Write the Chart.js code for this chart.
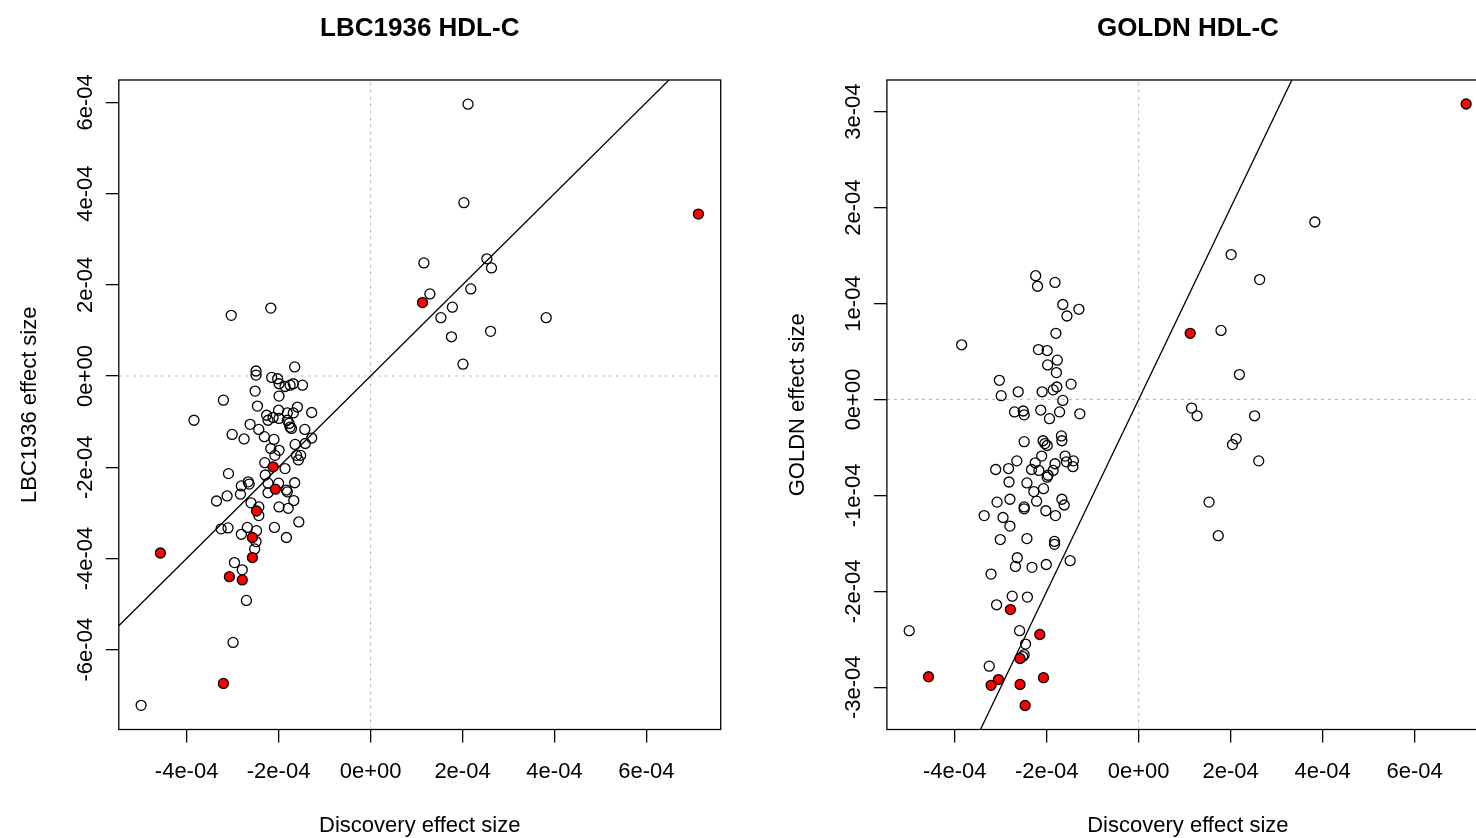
<!DOCTYPE html>
<html>
<head>
<meta charset="utf-8">
<title>HDL-C replication</title>
<script src="https://cdn.jsdelivr.net/npm/chart.js@4.4.1/dist/chart.umd.min.js"></script>
<style>
  body { margin: 0; background: #fff; overflow: hidden; }
  #wrap { position: relative; width: 1476px; height: 838px; overflow: hidden; }
  canvas { position: absolute; top: 0; }
</style>
</head>
<body>
<div id="wrap">
  <canvas id="lbcChart" width="768" height="838" style="left:0"></canvas>
  <canvas id="goldnChart" width="740" height="838" style="left:768px"></canvas>
</div>
<script>
// shared x axis (discovery effect size)
const xTicks = [-4e-4, -2e-4, 0, 2e-4, 4e-4, 6e-4];
const xTickLabels = ['-4e-04', '-2e-04', '0e+00', '2e-04', '4e-04', '6e-04'];
const xRange = [-5.475e-4, 7.615e-4];

// reference line y = a + b*x
const ablineA = 0;
const ablineB = 1;

// LBC1936 panel
const lbcYTicks = [-6e-4, -4e-4, -2e-4, 0, 2e-4, 4e-4, 6e-4];
const lbcYTickLabels = ['-6e-04', '-4e-04', '-2e-04', '0e+00', '2e-04', '4e-04', '6e-04'];
const lbcYRange = [-7.75e-4, 6.49e-4];

const lbcX = [
  -3.03e-4, -2.17e-4, -1.65e-4, -2.49e-4, -2.49e-4, -2.15e-4, -2.02e-4, -1.99e-4, -1.86e-4, -1.75e-4, -1.68e-4, -1.48e-4, -2.51e-4, -1.99e-4, -3.20e-4,
  -2.46e-4, -1.59e-4, -2.00e-4, -1.28e-4, -3.84e-4, -2.26e-4, -1.81e-4, -1.68e-4, -2.23e-4, -2.12e-4, -1.99e-4, -1.81e-4, -1.77e-4, -1.75e-4, -1.72e-4,
  -2.62e-4, -2.43e-4, -1.43e-4, -3.01e-4, -2.75e-4, -2.31e-4, -2.10e-4, -1.28e-4, -1.64e-4, -1.42e-4, -2.17e-4, -1.99e-4, -2.08e-4, -1.61e-4, -1.52e-4,
  -1.57e-4, -2.30e-4, -1.86e-4, -3.09e-4, -2.29e-4, -2.66e-4, -2.64e-4, -2.81e-4, -2.23e-4, -2.00e-4, -1.65e-4, -1.83e-4, -1.81e-4, -3.12e-4, -2.83e-4,
  -2.23e-4, -3.35e-4, -2.60e-4, -1.67e-4, -2.43e-4, -1.99e-4, -1.79e-4, -2.43e-4, -1.56e-4, -3.25e-4, -3.10e-4, -2.09e-4, -2.68e-4, -2.48e-4, -2.81e-4,
  -1.83e-4, -2.49e-4, -2.52e-4, -2.96e-4, -2.79e-4, -2.70e-4, -2.99e-4, -4.99e-4, 2.12e-4, 2.03e-4, 1.16e-4, 2.53e-4, 2.63e-4, 2.18e-4, 1.29e-4,
  1.78e-4, 1.53e-4, 3.82e-4, 2.61e-4, 1.76e-4, 2.01e-4
];
const lbcY = [
  1.33e-4, 1.49e-4, 0.20e-4, 0.11e-4, 0.02e-4, -0.03e-4, -0.06e-4, -0.17e-4, -0.23e-4, -0.20e-4, -0.17e-4, -0.20e-4, -0.33e-4, -0.44e-4, -0.53e-4,
  -0.66e-4, -0.68e-4, -0.75e-4, -0.80e-4, -0.97e-4, -0.86e-4, -0.81e-4, -0.81e-4, -0.97e-4, -0.91e-4, -0.93e-4, -0.97e-4, -1.04e-4, -1.12e-4, -1.15e-4,
  -1.06e-4, -1.17e-4, -1.17e-4, -1.28e-4, -1.38e-4, -1.33e-4, -1.39e-4, -1.36e-4, -1.50e-4, -1.48e-4, -1.59e-4, -1.63e-4, -1.74e-4, -1.74e-4, -1.74e-4,
  -1.84e-4, -1.90e-4, -2.03e-4, -2.14e-4, -2.17e-4, -2.32e-4, -2.37e-4, -2.41e-4, -2.35e-4, -2.35e-4, -2.34e-4, -2.50e-4, -2.54e-4, -2.63e-4, -2.59e-4,
  -2.56e-4, -2.74e-4, -2.78e-4, -2.73e-4, -2.87e-4, -2.87e-4, -2.90e-4, -3.06e-4, -3.20e-4, -3.35e-4, -3.33e-4, -3.32e-4, -3.32e-4, -3.39e-4, -3.47e-4,
  -3.54e-4, -3.63e-4, -3.79e-4, -4.09e-4, -4.25e-4, -4.92e-4, -5.84e-4, -7.22e-4, 5.96e-4, 3.80e-4, 2.48e-4, 2.57e-4, 2.37e-4, 1.91e-4, 1.80e-4,
  1.51e-4, 1.28e-4, 1.28e-4, 0.98e-4, 0.86e-4, 0.26e-4
];
// highlighted SNPs (red)
const lbcTopX = [-2.12e-4, -2.07e-4, -2.48e-4, -2.57e-4, -4.57e-4, -2.57e-4, -3.07e-4, -2.79e-4, -3.20e-4, 1.13e-4, 7.13e-4];
const lbcTopY = [-1.99e-4, -2.48e-4, -2.96e-4, -3.54e-4, -3.88e-4, -3.98e-4, -4.40e-4, -4.47e-4, -6.74e-4, 1.61e-4, 3.55e-4];

// GOLDN panel
const goldnYTicks = [-3e-4, -2e-4, -1e-4, 0, 1e-4, 2e-4, 3e-4];
const goldnYTickLabels = ['-3e-04', '-2e-04', '-1e-04', '0e+00', '1e-04', '2e-04', '3e-04'];
const goldnYRange = [-3.44e-4, 3.33e-4];

const goldnX = [
  -2.24e-4, -2.20e-4, -1.82e-4, -1.65e-4, -1.30e-4, -1.56e-4, -1.80e-4, -3.85e-4, -2.18e-4, -1.99e-4, -1.77e-4, -1.98e-4, -1.79e-4, -3.03e-4, -2.62e-4, -2.99e-4, -2.10e-4,
  -1.86e-4, -1.78e-4, -1.47e-4, -1.65e-4, -2.70e-4, -2.51e-4, -2.49e-4, -2.13e-4, -1.94e-4, -1.72e-4, -1.28e-4, -2.49e-4, -2.08e-4, -2.04e-4, -1.99e-4, -1.68e-4, -1.67e-4,
  -2.65e-4, -2.25e-4, -2.11e-4, -1.82e-4, -1.60e-4, -1.57e-4, -1.42e-4, -1.43e-4, -3.11e-4, -2.83e-4, -2.33e-4, -2.17e-4, -1.97e-4, -1.99e-4, -1.86e-4, -2.82e-4, -2.43e-4, -2.28e-4,
  -2.07e-4, -3.08e-4, -2.80e-4, -2.49e-4, -2.49e-4, -2.22e-4, -1.67e-4, -1.62e-4, -2.02e-4, -1.81e-4, -3.36e-4, -2.95e-4, -2.80e-4,
  -3.01e-4, -2.43e-4, -1.83e-4, -1.83e-4, -2.64e-4, -2.68e-4, -2.32e-4, -2.01e-4, -1.49e-4, -3.21e-4, -2.75e-4, -2.42e-4, -3.09e-4,
  -4.99e-4, -2.59e-4, -2.46e-4, -2.49e-4, -2.52e-4, -3.25e-4,
  3.83e-4, 2.01e-4, 2.63e-4, 1.79e-4, 2.19e-4, 1.15e-4, 1.27e-4, 2.52e-4, 2.12e-4, 2.04e-4, 2.61e-4, 1.53e-4, 1.73e-4
];
const goldnY = [
  1.29e-4, 1.18e-4, 1.22e-4, 0.99e-4, 0.94e-4, 0.87e-4, 0.69e-4, 0.57e-4, 0.52e-4, 0.51e-4, 0.41e-4, 0.36e-4, 0.28e-4, 0.20e-4, 0.08e-4, 0.04e-4, 0.08e-4,
  0.10e-4, 0.13e-4, 0.16e-4, -0.01e-4, -0.13e-4, -0.12e-4, -0.16e-4, -0.11e-4, -0.20e-4, -0.13e-4, -0.15e-4, -0.44e-4, -0.43e-4, -0.46e-4, -0.48e-4, -0.38e-4, -0.43e-4,
  -0.64e-4, -0.66e-4, -0.59e-4, -0.67e-4, -0.59e-4, -0.65e-4, -0.64e-4, -0.70e-4, -0.73e-4, -0.72e-4, -0.73e-4, -0.74e-4, -0.79e-4, -0.81e-4, -0.74e-4, -0.86e-4, -0.87e-4, -0.96e-4,
  -0.93e-4, -1.07e-4, -1.04e-4, -1.12e-4, -1.14e-4, -1.06e-4, -1.04e-4, -1.10e-4, -1.16e-4, -1.21e-4, -1.21e-4, -1.23e-4, -1.32e-4,
  -1.46e-4, -1.45e-4, -1.48e-4, -1.51e-4, -1.65e-4, -1.74e-4, -1.75e-4, -1.72e-4, -1.68e-4, -1.82e-4, -2.05e-4, -2.06e-4, -2.14e-4,
  -2.41e-4, -2.41e-4, -2.55e-4, -2.66e-4, -2.68e-4, -2.78e-4,
  1.85e-4, 1.51e-4, 1.25e-4, 0.72e-4, 0.26e-4, -0.09e-4, -0.17e-4, -0.17e-4, -0.41e-4, -0.47e-4, -0.64e-4, -1.07e-4, -1.42e-4
];
const goldnTopX = [7.12e-4, 1.12e-4, -2.79e-4, -2.15e-4, -2.58e-4, -2.07e-4, -4.57e-4, -3.05e-4, -3.21e-4, -2.58e-4, -2.47e-4];
const goldnTopY = [3.08e-4, 0.69e-4, -2.19e-4, -2.45e-4, -2.70e-4, -2.90e-4, -2.89e-4, -2.92e-4, -2.98e-4, -2.97e-4, -3.19e-4];

Chart.defaults.font.family = '"Liberation Sans", Arial, Helvetica, sans-serif';
Chart.defaults.color = '#000';

// R style box round the plot region
const boxPlugin = {
  id: 'box',
  afterDatasetsDraw(chart) {
    const { ctx, chartArea: a } = chart;
    ctx.save();
    ctx.strokeStyle = '#000';
    ctx.lineWidth = 1.3;
    ctx.strokeRect(a.left, a.top, a.right - a.left, a.bottom - a.top);
    ctx.restore();
  }
};

function makeChart(id, p) {
  const [x0, x1] = xRange;
  const [y0, y1] = p.yRange;
  const openPts = p.x.map((v, i) => ({ x: v, y: p.y[i] }));
  const topPts = p.topX.map((v, i) => ({ x: v, y: p.topY[i] }));
  const dotted = { showLine: true, pointRadius: 0, borderColor: '#bebebe', borderWidth: 1.2, borderDash: [3, 4] };

  return new Chart(document.getElementById(id), {
    type: 'scatter',
    data: {
      datasets: [
        { data: topPts, pointRadius: 5, backgroundColor: '#ff0000', borderColor: '#000', borderWidth: 1.3, order: 0 },
        { data: openPts, pointRadius: 5, backgroundColor: 'rgba(0,0,0,0)', borderColor: '#000', borderWidth: 1.3, order: 1 },
        { data: [{ x: x0, y: ablineA + ablineB * x0 }, { x: x1, y: ablineA + ablineB * x1 }],
          showLine: true, pointRadius: 0, borderColor: '#000', borderWidth: 1.3, order: 2 },
        Object.assign({ data: [{ x: 0, y: y0 }, { x: 0, y: y1 }], order: 3 }, dotted),
        Object.assign({ data: [{ x: x0, y: 0 }, { x: x1, y: 0 }], order: 4 }, dotted)
      ]
    },
    options: {
      responsive: false,
      animation: false,
      devicePixelRatio: 1,
      events: [],
      layout: { padding: { left: 0, right: p.padRight, top: 0, bottom: 0 } },
      plugins: {
        legend: { display: false },
        tooltip: { enabled: false },
        title: {
          display: true, text: p.title, fullSize: false, color: '#000',
          font: { size: 26, weight: 'bold', lineHeight: 1.2 },
          padding: { top: 13, bottom: 35.8 }
        }
      },
      scales: {
        x: {
          type: 'linear', min: x0, max: x1,
          afterFit: s => { s.height = 108.5; },
          afterBuildTicks: s => { s.ticks = xTicks.map(v => ({ value: v })); },
          ticks: { autoSkip: false, maxRotation: 0, padding: 16, font: { size: 22 }, color: '#000',
                   callback: (v, i) => xTickLabels[i] },
          grid: { drawOnChartArea: false, tickLength: 13, color: '#000', lineWidth: 1.3 },
          border: { display: false },
          title: { display: true, text: 'Discovery effect size', color: '#000',
                   font: { size: 22, lineHeight: 1 }, padding: { top: 0, bottom: 1 } }
        },
        y: {
          type: 'linear', min: y0, max: y1,
          afterFit: s => { s.width = p.yAxisWidth; },
          afterBuildTicks: s => { s.ticks = p.yTicks.map(v => ({ value: v })); },
          ticks: { autoSkip: false, minRotation: 90, maxRotation: 90, crossAlign: 'center', padding: -12,
                   font: { size: 22 }, color: '#000', callback: (v, i) => p.yTickLabels[i] },
          grid: { drawOnChartArea: false, tickLength: 13, color: '#000', lineWidth: 1.3 },
          border: { display: false },
          title: { display: true, text: p.yTitle, color: '#000',
                   font: { size: 22, lineHeight: 1 }, padding: { top: 19, bottom: 0 } }
        }
      }
    },
    plugins: [boxPlugin]
  });
}

makeChart('lbcChart', {
  title: 'LBC1936 HDL-C', yTitle: 'LBC1936 effect size',
  x: lbcX, y: lbcY, topX: lbcTopX, topY: lbcTopY,
  yTicks: lbcYTicks, yTickLabels: lbcYTickLabels, yRange: lbcYRange,
  yAxisWidth: 118.8, padRight: 47.3
});

makeChart('goldnChart', {
  title: 'GOLDN HDL-C', yTitle: 'GOLDN effect size',
  x: goldnX, y: goldnY, topX: goldnTopX, topY: goldnTopY,
  yTicks: goldnYTicks, yTickLabels: goldnYTickLabels, yRange: goldnYRange,
  yAxisWidth: 118.9, padRight: 19.1
});
</script>
</body>
</html>
